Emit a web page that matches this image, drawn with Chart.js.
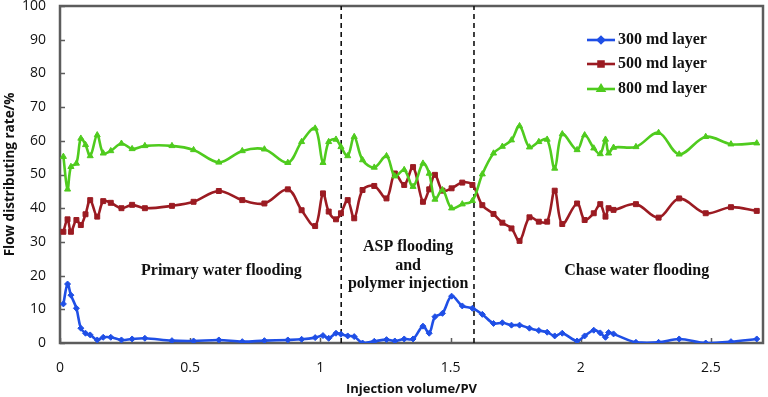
<!DOCTYPE html>
<html><head><meta charset="utf-8">
<script src="https://cdn.jsdelivr.net/npm/chart.js@4.4.0/dist/chart.umd.min.js"></script>
<style>html,body{margin:0;padding:0;background:#fff;} #wrap{width:768px;height:397px;position:relative;}</style>
</head><body><div id="wrap"><canvas id="c" width="768" height="397"></canvas></div>
<script>
// ---- data ----
const injectionVolume = [0.013,0.029,0.042,0.063,0.080,0.098,0.116,0.143,0.166,0.195,
  0.236,0.277,0.326,0.430,0.513,0.610,0.700,0.785,0.875,0.928,
  0.980,1.010,1.032,1.060,1.079,1.105,1.130,1.162,1.207,1.254,
  1.286,1.322,1.356,1.394,1.418,1.440,1.469,1.504,1.545,1.584,
  1.622,1.665,1.699,1.734,1.765,1.803,1.839,1.871,1.900,1.929,
  1.986,2.015,2.050,2.075,2.095,2.107,2.126,2.212,2.299,2.378,
  2.480,2.577,2.676];
const layer300 = [11.6,17.5,14.2,10.3,4.4,2.9,2.4,0.9,1.7,1.7,
  0.9,1.2,1.4,0.7,0.6,0.9,0.4,0.7,0.9,1.1,
  1.6,2.2,1.4,2.9,2.6,2.1,1.9,0.0,0.5,1.0,
  0.6,1.2,1.2,5.0,2.9,7.8,8.8,13.9,11.0,10.3,
  8.5,5.8,6.0,5.3,5.3,4.4,3.7,3.2,2.1,2.9,
  0.6,2.1,3.8,3.0,1.7,3.1,2.7,0.2,0.2,1.2,
  0.0,0.4,1.2];
const layer500 = [33.0,36.7,33.0,36.5,35.0,38.2,42.4,37.5,42.1,41.6,
  40.0,41.0,40.0,40.7,41.9,45.1,42.4,41.4,45.6,39.4,
  34.7,44.4,39.0,36.7,38.5,42.4,37.0,45.4,46.6,42.9,
  50.3,46.9,52.2,41.9,45.6,49.9,45.2,45.9,47.6,46.9,
  40.9,38.3,35.7,34.0,30.3,37.3,36.0,36.0,45.2,35.3,
  41.4,36.5,38.5,41.2,37.5,40.0,39.5,41.2,37.2,42.9,
  38.5,40.3,39.2];
const layer800 = [55.3,45.6,52.3,53.3,60.7,58.8,55.5,61.7,56.3,57.0,
  59.2,57.6,58.5,58.5,57.3,53.6,57.0,57.5,53.5,59.7,
  63.7,53.5,59.7,60.4,58.2,55.5,61.2,54.3,52.1,55.5,
  49.5,51.4,46.4,53.3,50.3,42.6,45.4,40.0,41.2,42.2,
  50.1,56.3,58.3,60.2,64.4,58.1,59.7,60.4,51.8,62.0,
  57.3,61.7,57.8,56.1,60.4,56.3,58.0,58.2,62.4,56.0,
  61.2,59.0,59.3];
const seriesNames = ['300 md layer','500 md layer','800 md layer'];
const phaseBoundaries = [1.08, 1.59];
const xTickValues = [0,0.5,1,1.5,2,2.5];
const yTickValues = [0,10,20,30,40,50,60,70,80,90,100];
const phaseLabels = [
  {lines:['Primary water flooding'], x:0.62, y:21.5},
  {lines:['ASP flooding','and','polymer injection'], x:1.337, y:28.5},
  {lines:['Chase water flooding'], x:2.215, y:21.5}
];

// ---- styles ----
const colors = ['#1f4fe6','#9b1b22','#4fcb1e'];
const shapes = ['rectRot','rect','triangle'];
const radii = [3,3.5,3.5];
const frameColor = '#5c5c5c';
const serif = '"Liberation Serif","Times New Roman",serif';
const sans = '"Open Sans",sans-serif';

const pts = arr => injectionVolume.map((x,i)=>({x:x,y:arr[i]}));
const seriesData = [layer300, layer500, layer800];

const datasets = seriesData.map((arr,i)=>({
  label: seriesNames[i],
  data: pts(arr),
  borderColor: colors[i],
  backgroundColor: colors[i],
  borderWidth: 2.6,
  pointStyle: shapes[i],
  pointRadius: radii[i],
  pointBorderWidth: 1,
  tension: 0.35,
  order: 3 - i
}));
phaseBoundaries.forEach(b=>{
  datasets.push({
    label: 'boundary',
    data: [{x:b,y:0},{x:b,y:100}],
    borderColor: '#111',
    borderWidth: 1.6,
    borderDash: [5,4],
    pointRadius: 0,
    tension: 0,
    order: 5
  });
});

function drawFrame(chart){
  const ctx = chart.ctx, a = chart.chartArea;
  const x = chart.scales.x, y = chart.scales.y;
  ctx.save();
  ctx.setLineDash([]);
  ctx.strokeStyle = frameColor;
  ctx.lineWidth = 2.5;
  ctx.strokeRect(a.left, a.top, a.right - a.left, a.bottom - a.top);
  ctx.lineWidth = 1.5;
  ctx.beginPath();
  yTickValues.forEach(v=>{ const p = Math.round(y.getPixelForValue(v))+0.5; ctx.moveTo(a.left, p); ctx.lineTo(a.left+5, p); });
  xTickValues.forEach(v=>{ const p = Math.round(x.getPixelForValue(v))+0.5; ctx.moveTo(p, a.bottom); ctx.lineTo(p, a.bottom-5); });
  ctx.stroke();
  ctx.restore();
}

const decor = {
  id: 'decor',
  beforeDatasetsDraw(chart){ drawFrame(chart); },
  afterDraw(chart){
    const ctx = chart.ctx;
    const x = chart.scales.x, y = chart.scales.y;
    ctx.save();
    ctx.fillStyle = '#111';
    ctx.font = 'bold 16px ' + serif;
    ctx.textAlign = 'center';
    ctx.textBaseline = 'middle';
    phaseLabels.forEach(l=>{
      const px = x.getPixelForValue(l.x), py = y.getPixelForValue(l.y);
      l.lines.forEach((t,k)=> ctx.fillText(t, px, py + k*18.5));
    });
    const lx0 = 587, lx1 = 615, ly = [40, 64, 89];
    seriesNames.forEach((n,i)=>{
      ctx.strokeStyle = colors[i]; ctx.fillStyle = colors[i]; ctx.lineWidth = 2.6;
      ctx.beginPath(); ctx.moveTo(lx0, ly[i]); ctx.lineTo(lx1, ly[i]); ctx.stroke();
      Chart.helpers.drawPoint(ctx, {pointStyle: shapes[i], radius: radii[i], rotation: 0, borderWidth: 1}, (lx0+lx1)/2, ly[i]);
      ctx.fillStyle = '#111';
      ctx.textAlign = 'left';
      ctx.font = 'bold 16px ' + serif;
      ctx.fillText(n, lx1 + 3, ly[i]);
    });
    ctx.restore();
  }
};

new Chart(document.getElementById('c'), {
  type: 'line',
  data: { datasets },
  options: {
    responsive: false,
    animation: false,
    devicePixelRatio: 1,
    layout: { padding: { top: 6, right: 4, left: 0, bottom: 0 } },
    plugins: { legend: { display: false }, tooltip: { enabled: false } },
    scales: {
      x: {
        type: 'linear', min: 0, max: 2.7, position: 'bottom',
        afterBuildTicks: s => { s.ticks = xTickValues.map(v=>({value:v})); },
        afterFit: s => { s.height = 54; s.paddingLeft = 0; s.paddingRight = 0; },
        grid: { display: false, drawTicks: false },
        border: { display: true, color: frameColor, width: 2 },
        ticks: { padding: 17, color: '#111', font: { family: sans, size: 14 },
          callback: v => String(v) },
        title: { display: true, text: 'Injection volume/PV', color: '#111',
          font: { family: sans, size: 13, weight: 'bold' }, padding: { top: 0, bottom: 0 } }
      },
      y: {
        min: 0, max: 100, position: 'left',
        afterBuildTicks: s => { s.ticks = yTickValues.map(v=>({value:v})); },
        afterFit: s => { s.width = 60; s.paddingTop = 0; s.paddingBottom = 0; },
        grid: { display: false, drawTicks: false },
        border: { display: true, color: frameColor, width: 2 },
        ticks: { padding: 14, color: '#111', font: { family: sans, size: 14 } },
        title: { display: true, text: 'Flow distributing rate/%', color: '#111',
          font: { family: sans, size: 13.5, weight: 'bold' }, padding: { top: 2, bottom: 0 } }
      }
    }
  },
  plugins: [decor]
});
</script></body></html>
